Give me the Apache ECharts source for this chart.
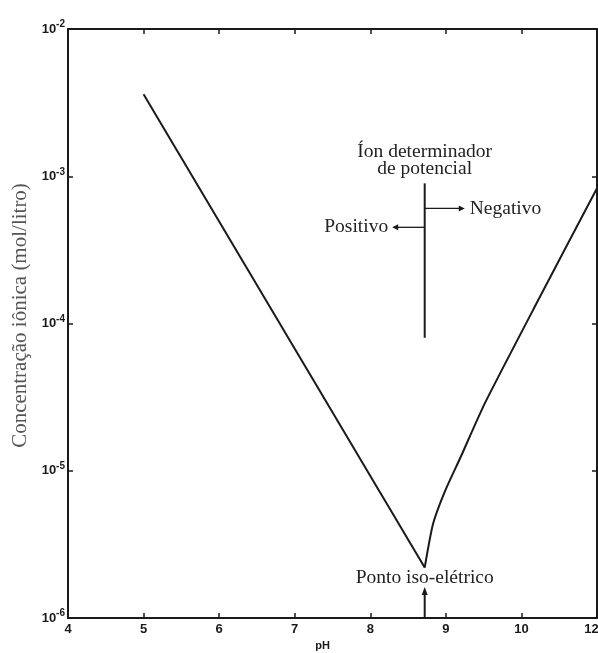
<!DOCTYPE html>
<html>
<head>
<meta charset="utf-8">
<script src="https://cdn.jsdelivr.net/npm/echarts@6/dist/echarts.min.js"></script>
<style>
html,body{margin:0;padding:0;background:#fff;}
#chart{width:598px;height:653px;}
</style>
</head>
<body>
<div id="chart"></div>
<script>
// pH values and ionic concentration (mol/L)
const leftBranchPH   = [5.0, 8.72];
const leftBranchConc = [3.6e-3, 2.2e-6];
const rightBranchPH   = [8.72, 8.83, 8.99, 9.19, 9.52, 10.24, 11.0];
const rightBranchConc = [2.2e-6, 4.35e-6, 7.3e-6, 1.22e-5, 2.9e-5, 1.5e-4, 8.3e-4];

// tick labels
const xTickValues = [4, 5, 6, 7, 8, 9, 10, 11];
const xTickLabels = ['4', '5', '6', '7', '8', '9', '10', '12'];
const yTickExponents = ['-6', '-5', '-4', '-3', '-2'];

// texts
const yTitle = 'Concentração iônica (mol/litro)';
const xTitle = 'pH';
const ionTitle = ['Íon determinador', 'de potencial'];
const negText = 'Negativo';
const posText = 'Positivo';
const isoText = 'Ponto iso-elétrico';

// annotation anchors in data space (pH, concentration)
const isoPH = 8.72;
const ionLineTop = 8.95e-4, ionLineBottom = 8.0e-5;
const negArrow = {y: 6.05e-4, toPH: 9.25};
const posArrow = {y: 4.5e-4, toPH: 8.29};

const leftData = leftBranchPH.map((p, i) => [p, leftBranchConc[i]]);
const rightData = rightBranchPH.map((p, i) => [p, rightBranchConc[i]]);

const chart = echarts.init(document.getElementById('chart'), null, {renderer: 'canvas'});
const ink = '#1a1a1a';
const tickFont = {fontFamily: 'Liberation Sans', fontWeight: 'bold', fontSize: 13, color: ink};

function xLabel(v) {
  const i = xTickValues.indexOf(Math.round(v));
  if (i < 0) return '';
  return i === xTickValues.length - 1 ? '{r|' + xTickLabels[i] + '}' : xTickLabels[i];
}
function yLabel(v) {
  const e = Math.round(Math.log10(v));
  const s = String(e);
  if (yTickExponents.indexOf(s) < 0) return '';
  return '{b|10}{s|' + s + '}';
}

const option = {
  animation: false,
  backgroundColor: '#fff',
  grid: {left: 68, right: 1, top: 29, bottom: 35, containLabel: false, outerBoundsMode: 'none'},
  xAxis: [{
    type: 'value', min: 4, max: 11, interval: 1,
    axisLine: {show: true, lineStyle: {color: ink, width: 2}},
    axisTick: {show: true, inside: true, length: 5, lineStyle: {color: ink, width: 1.5}},
    axisLabel: Object.assign({
      margin: 5, formatter: xLabel, showMinLabel: true, showMaxLabel: true, hideOverlap: false,
      rich: {r: {fontFamily: 'Liberation Sans', fontWeight: 'bold', fontSize: 13, color: ink, padding: [0, 11, 0, 0]}}
    }, tickFont),
    splitLine: {show: false},
    name: xTitle, nameLocation: 'middle', nameGap: 20,
    nameTextStyle: {fontFamily: 'Liberation Sans', fontWeight: 'bold', fontSize: 11, color: ink, padding: [0, 20, 0, 0]}
  }, {
    type: 'value', min: 4, max: 11, interval: 1, position: 'top',
    axisLine: {show: true, lineStyle: {color: ink, width: 2}},
    axisTick: {show: true, inside: true, length: 5, lineStyle: {color: ink, width: 1.5}},
    axisLabel: {show: false}, splitLine: {show: false}
  }],
  yAxis: [{
    type: 'log', logBase: 10, min: 1e-6, max: 1e-2,
    axisLine: {show: true, lineStyle: {color: ink, width: 2}},
    axisTick: {show: true, inside: true, length: 5, lineStyle: {color: ink, width: 1.5}},
    axisLabel: {
      margin: 3, formatter: yLabel, showMinLabel: true, showMaxLabel: true, hideOverlap: false,
      rich: {
        b: {fontFamily: 'Liberation Sans', fontWeight: 'bold', fontSize: 13, color: ink},
        s: {fontFamily: 'Liberation Sans', fontWeight: 'bold', fontSize: 10, color: ink, padding: [0, 0, 9, 0]}
      }
    },
    splitLine: {show: false},
    name: yTitle, nameLocation: 'middle', nameGap: 37, nameRotate: 90,
    nameTextStyle: {fontFamily: 'Liberation Serif', fontSize: 21, color: '#555', padding: [0, 0, 0, 16]}
  }, {
    type: 'log', logBase: 10, min: 1e-6, max: 1e-2, position: 'right',
    axisLine: {show: true, lineStyle: {color: ink, width: 2}},
    axisTick: {show: true, inside: true, length: 5, lineStyle: {color: ink, width: 1.5}},
    axisLabel: {show: false}, splitLine: {show: false}
  }],
  series: [{
    type: 'line', data: leftData, xAxisIndex: 0, yAxisIndex: 0,
    symbol: 'none', lineStyle: {color: ink, width: 2}, silent: true
  }, {
    type: 'line', data: rightData, xAxisIndex: 0, yAxisIndex: 0,
    symbol: 'none', smooth: 0.2, lineStyle: {color: ink, width: 2}, silent: true
  }]
};
chart.setOption(option);

function px(p, c) { return chart.convertToPixel({xAxisIndex: 0, yAxisIndex: 0}, [p, c]); }
const serif = {fontFamily: 'Liberation Serif', fontSize: 19.5, fill: '#222'};
const lineTopPx = px(isoPH, ionLineTop), lineBotPx = px(isoPH, ionLineBottom);
const negA = px(isoPH, negArrow.y), negB = px(negArrow.toPH, negArrow.y);
const posA = px(isoPH, posArrow.y), posB = px(posArrow.toPH, posArrow.y);
const basePx = px(isoPH, 1e-6);
const minPt = px(leftBranchPH[1], leftBranchConc[1]);

function arrowHead(x, y, dir) {
  let pts;
  if (dir === 'right') pts = [[x, y], [x - 6, y - 3], [x - 6, y + 3]];
  else if (dir === 'left') pts = [[x, y], [x + 6, y - 3], [x + 6, y + 3]];
  else pts = [[x, y], [x - 3, y + 8], [x + 3, y + 8]];
  return {type: 'polygon', shape: {points: pts}, style: {fill: ink}};
}

const g = [
  {type: 'text', x: lineTopPx[0], y: lineTopPx[1] - 31, style: Object.assign({text: ionTitle[0], textAlign: 'center', textVerticalAlign: 'middle'}, serif)},
  {type: 'text', x: lineTopPx[0], y: lineTopPx[1] - 14, style: Object.assign({text: ionTitle[1], textAlign: 'center', textVerticalAlign: 'middle'}, serif)},
  {type: 'line', shape: {x1: lineTopPx[0], y1: lineTopPx[1], x2: lineBotPx[0], y2: lineBotPx[1]}, style: {stroke: ink, lineWidth: 2}},
  {type: 'line', shape: {x1: negA[0], y1: negA[1], x2: negB[0] - 4, y2: negB[1]}, style: {stroke: ink, lineWidth: 1.3}},
  arrowHead(negB[0], negB[1], 'right'),
  {type: 'text', x: negB[0] + 5, y: negB[1], style: Object.assign({text: negText, textAlign: 'left', textVerticalAlign: 'middle'}, serif)},
  {type: 'line', shape: {x1: posA[0], y1: posA[1], x2: posB[0] + 4, y2: posB[1]}, style: {stroke: ink, lineWidth: 1.3}},
  arrowHead(posB[0], posB[1], 'left'),
  {type: 'text', x: posB[0] - 4, y: posB[1], style: Object.assign({text: posText, textAlign: 'right', textVerticalAlign: 'middle'}, serif)},
  {type: 'text', x: minPt[0], y: minPt[1] + 10, style: Object.assign({text: isoText, textAlign: 'center', textVerticalAlign: 'middle'}, serif)},
  {type: 'line', shape: {x1: basePx[0], y1: basePx[1], x2: basePx[0], y2: basePx[1] - 26}, style: {stroke: ink, lineWidth: 2}},
  arrowHead(basePx[0], basePx[1] - 31, 'up')
];
chart.setOption({graphic: g});
</script>
</body>
</html>
